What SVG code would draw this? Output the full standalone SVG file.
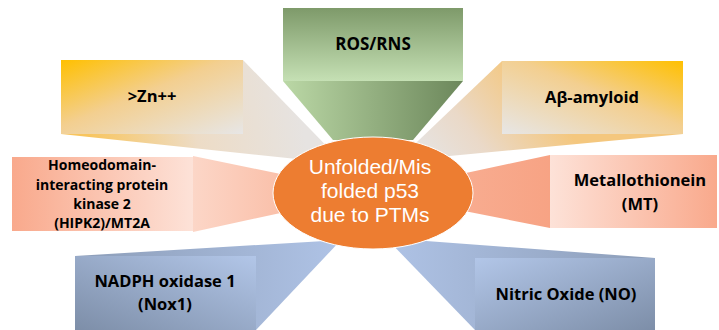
<svg xmlns="http://www.w3.org/2000/svg" width="719" height="330" viewBox="0 0 719 330">
<defs>
<linearGradient id="gRosBox" x1="0" y1="0" x2="0" y2="1"><stop offset="0" stop-color="#7E9A6A"/><stop offset="1" stop-color="#C5E0B4"/></linearGradient>
<linearGradient id="gRosW" x1="0" y1="0" x2="1" y2="0"><stop offset="0" stop-color="#BBD8A6"/><stop offset="1" stop-color="#6C875B"/></linearGradient>
<linearGradient id="gZnBox" x1="0" y1="0" x2="1" y2="1"><stop offset="0" stop-color="#FFC000"/><stop offset="0.45" stop-color="#F3CF90"/><stop offset="1" stop-color="#E7E6E6"/></linearGradient>
<linearGradient id="gZnW" gradientUnits="userSpaceOnUse" x1="90" y1="150" x2="300" y2="110"><stop offset="0" stop-color="#F8C55E"/><stop offset="0.5" stop-color="#EDDCC6"/><stop offset="1" stop-color="#E6E3E1"/></linearGradient>
<linearGradient id="gAbBox" x1="1" y1="0" x2="0" y2="1"><stop offset="0" stop-color="#FFC000"/><stop offset="0.45" stop-color="#F3CF90"/><stop offset="1" stop-color="#E7E6E6"/></linearGradient>
<linearGradient id="gAbW" gradientUnits="userSpaceOnUse" x1="520" y1="70" x2="420" y2="150"><stop offset="0" stop-color="#F4C77E"/><stop offset="0.6" stop-color="#EAD9C8"/><stop offset="1" stop-color="#E6E3E1"/></linearGradient>
<linearGradient id="gHomBox" x1="0" y1="0" x2="1" y2="0"><stop offset="0" stop-color="#F9A98C"/><stop offset="1" stop-color="#FDE2D8"/></linearGradient>
<linearGradient id="gHomW" x1="0" y1="0" x2="1" y2="0"><stop offset="0" stop-color="#FCD6C7"/><stop offset="1" stop-color="#F8A98B"/></linearGradient>
<linearGradient id="gMtBox" x1="0" y1="0" x2="1" y2="0"><stop offset="0" stop-color="#FDE2D8"/><stop offset="1" stop-color="#F9A98C"/></linearGradient>
<linearGradient id="gMtW" x1="0" y1="0" x2="1" y2="0"><stop offset="0" stop-color="#F9B59C"/><stop offset="1" stop-color="#F7A384"/></linearGradient>
<linearGradient id="gNadBox" x1="1" y1="0" x2="0" y2="1"><stop offset="0" stop-color="#B2C6E8"/><stop offset="1" stop-color="#7D8EA8"/></linearGradient>
<linearGradient id="gNadW" x1="0" y1="0" x2="1" y2="0"><stop offset="0" stop-color="#8C9DB8"/><stop offset="1" stop-color="#AFC3E6"/></linearGradient>
<linearGradient id="gNoBox" x1="0" y1="0" x2="1" y2="1"><stop offset="0" stop-color="#B2C6E8"/><stop offset="1" stop-color="#7D8EA8"/></linearGradient>
<linearGradient id="gNoW" x1="0" y1="0" x2="1" y2="0"><stop offset="0" stop-color="#AFC3E6"/><stop offset="1" stop-color="#8C9DB8"/></linearGradient>
</defs>
<style>
.lbl{font-family:"Open Sans","Liberation Sans",sans-serif;font-weight:bold;fill:#000;text-anchor:middle}
.ctr{font-family:"Liberation Sans",Arial,sans-serif;font-size:21px;fill:#FFFFFF;text-anchor:middle}
</style>
<rect width="719" height="330" fill="#FFFFFF"/>
<g id="connectors">
<polygon points="283,81 463,81 413,140 333,140" fill="url(#gRosW)"/>
<polygon points="243,60 344,164 61,134" fill="url(#gZnW)"/>
<polygon points="502,61 397,161 683,134" fill="url(#gAbW)"/>
<polygon points="193,156 373,193 193,232" fill="url(#gHomW)"/>
<polygon points="550,155 373,193 550,228" fill="url(#gMtW)"/>
<polygon points="75,256 341,240 256,330" fill="url(#gNadW)"/>
<polygon points="655,258 386,238 475,330" fill="url(#gNoW)"/>
</g>
<g id="ros">
<rect x="283" y="8" width="180" height="73" fill="url(#gRosBox)"/>
<text class="lbl" x="373" y="50" font-size="17">ROS/RNS</text>
</g>
<g id="zn">
<rect x="61" y="60" width="182" height="74" fill="url(#gZnBox)"/>
<text class="lbl" x="152" y="102" font-size="16.5">&gt;Zn++</text>
</g>
<g id="abeta">
<rect x="502" y="61" width="181" height="73" fill="url(#gAbBox)"/>
<text class="lbl" x="592" y="103" font-size="16.5">Aβ-amyloid</text>
</g>
<g id="hipk2">
<rect x="12" y="157" width="181" height="74" fill="url(#gHomBox)"/>
<text class="lbl" font-size="14"><tspan x="102" y="170">Homeodomain-</tspan><tspan x="102" y="189.5">interacting protein</tspan><tspan x="102" y="209">kinase 2</tspan><tspan x="102" y="228">(HIPK2)/MT2A</tspan></text>
</g>
<g id="mt">
<rect x="550" y="155" width="167" height="73" fill="url(#gMtBox)"/>
<text class="lbl" font-size="16.5"><tspan x="640" y="186">Metallothionein</tspan><tspan x="640" y="210">(MT)</tspan></text>
</g>
<g id="nox1">
<rect x="75" y="256" width="181" height="74" fill="url(#gNadBox)"/>
<text class="lbl" font-size="16.5"><tspan x="165" y="287">NADPH oxidase 1</tspan><tspan x="165" y="310">(Nox1)</tspan></text>
</g>
<g id="no">
<rect x="475" y="258" width="180" height="72" fill="url(#gNoBox)"/>
<text class="lbl" x="566" y="300" font-size="16.5">Nitric Oxide (NO)</text>
</g>
<g id="p53">
<ellipse cx="373" cy="193" rx="100" ry="56" fill="#ED7D31" stroke="#FFFFFF" stroke-width="1"/>
<text class="ctr"><tspan x="370" y="174">Unfolded/Mis</tspan><tspan x="370" y="198">folded p53</tspan><tspan x="370" y="222">due to PTMs</tspan></text>
</g>
</svg>
